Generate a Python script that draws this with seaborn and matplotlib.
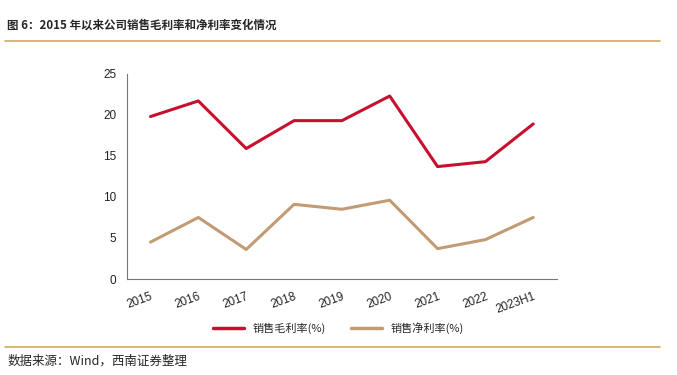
import numpy as np
import pandas as pd
import matplotlib
matplotlib.use("Agg")
import matplotlib.pyplot as plt
import seaborn as sns
from matplotlib.lines import Line2D

years = ["2015", "2016", "2017", "2018", "2019", "2020", "2021", "2022", "2023H1"]
gross_margin = [19.8, 21.7, 15.9, 19.3, 19.3, 22.3, 13.7, 14.3, 18.9]
net_margin = [4.5, 7.5, 3.6, 9.1, 8.5, 9.6, 3.7, 4.8, 7.5]
series_names = ["销售毛利率(%)", "销售净利率(%)"]

RED = "#C8102E"
TAN = "#C29B74"
RULE = "#D6A75E"

sns.set_style("white")
plt.rcParams["font.family"] = ["Liberation Sans", "Noto Sans CJK SC", "DejaVu Sans"]

df = pd.DataFrame({
    "pos": list(range(len(years))) * 2,
    "value": gross_margin + net_margin,
    "series": [series_names[0]] * len(years) + [series_names[1]] * len(years),
})

fig = plt.figure(figsize=(6.77, 3.75), dpi=100)
ax = fig.add_axes([0.187, 0.256, 0.636, 0.547])

sns.lineplot(data=df, x="pos", y="value", hue="series",
             palette={series_names[0]: RED, series_names[1]: TAN},
             linewidth=2.2, ax=ax, legend=False)

ax.set_xlim(-0.5, len(years) - 0.5)
ax.set_ylim(0, 25)
ax.set_yticks([0, 5, 10, 15, 20, 25])
ax.set_xlabel("")
ax.set_ylabel("")

# category boundaries as major ticks, labels on minor ticks
ax.set_xticks(np.arange(-0.5, len(years), 1))
ax.set_xticklabels([])
ax.set_xticks(np.arange(len(years)), minor=True)
ax.set_xticklabels(years, minor=True, rotation=20, fontsize=8.5, color="#222222",
                   ha="right", rotation_mode="anchor")
ax.tick_params(axis="x", which="major", direction="in", length=4, color="#777777")
ax.tick_params(axis="x", which="minor", length=0, pad=8)
ax.tick_params(axis="y", direction="out", length=4, color="#777777",
               labelsize=8.5, labelcolor="#222222")

for side in ["top", "right"]:
    ax.spines[side].set_visible(False)
for side in ["left", "bottom"]:
    ax.spines[side].set_color("#777777")
    ax.spines[side].set_linewidth(0.8)

handles = [Line2D([], [], color=RED, linewidth=2.5),
           Line2D([], [], color=TAN, linewidth=2.5)]
fig.legend(handles, series_names, loc="center", bbox_to_anchor=(0.5, 0.125),
           ncol=2, frameon=False, handlelength=2.8, columnspacing=2.2,
           prop={"family": ["Noto Sans CJK SC", "DejaVu Sans"], "size": 8})

fig.text(0.011, 0.933, "图 6：2015 年以来公司销售毛利率和净利率变化情况",
         fontsize=8.3, fontweight="bold", ha="left", va="center",
         family=["Noto Sans CJK SC", "DejaVu Sans"])
fig.add_artist(Line2D([0.007, 0.975], [0.89, 0.89], color=RULE, linewidth=1.2))
fig.add_artist(Line2D([0.007, 0.975], [0.075, 0.075], color=RULE, linewidth=1.2))
fig.text(0.011, 0.037, "数据来源：Wind，西南证券整理", fontsize=9, style="italic",
         ha="left", va="center", family=["Noto Sans CJK SC", "DejaVu Sans"])

fig.savefig("out.png", dpi=100)
